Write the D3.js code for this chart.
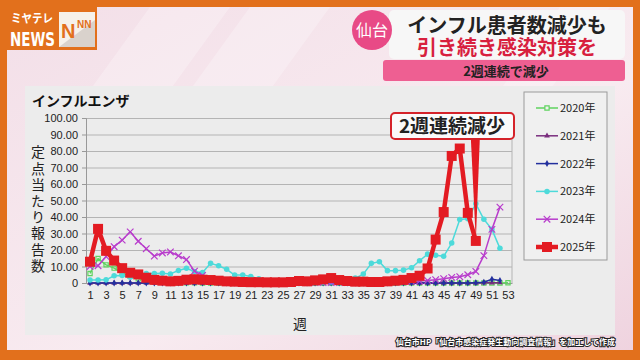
<!DOCTYPE html>
<html>
<head>
<meta charset="utf-8">
<script src="https://cdn.jsdelivr.net/npm/d3@7"></script>
<style>
  body { margin: 0; background: #fff; }
  svg { display: block; font-family: "Noto Sans CJK JP", "Noto Sans", sans-serif; }
</style>
</head>
<body>
<svg width="640" height="360"></svg>
<script>
// ---- data ----
var weeks = [1, 2, 3, 4, 5, 6, 7, 8, 9, 10, 11, 12, 13, 14, 15, 16, 17, 18, 19, 20,
  21, 22, 23, 24, 25, 26, 27, 28, 29, 30, 31, 32, 33, 34, 35, 36, 37, 38, 39, 40,
  41, 42, 43, 44, 45, 46, 47, 48, 49, 50, 51, 52, 53];
var weekTicks = [1, 3, 5, 7, 9, 11, 13, 15, 17, 19, 21, 23, 25, 27, 29, 31, 33, 35,
  37, 39, 41, 43, 45, 47, 49, 51, 53];
var yTicks = [0, 10, 20, 30, 40, 50, 60, 70, 80, 90, 100];

var y2020 = [5.8, 14.8, 11.0, 9.0, 6.0, 4.0, 2.5, 1.5, 0.8, 0.4,
  0.2, 0.1, 0.1, 0.1, 0.05, 0, 0, 0, 0, 0,
  0, 0, 0, 0, 0, 0, 0, 0, 0, 0,
  0, 0, 0, 0, 0, 0, 0, 0, 0, 0,
  0, 0, 0, 0, 0, 0, 0, 0, 0, 0,
  0, 0, 0.1];
var y2021 = [0, 0, 0, 0, 0, 0, 0, 0, 0, 0,
  0, 0, 0, 0, 0, 0, 0, 0, 0, 0,
  0, 0, 0, 0, 0, 0, 0, 0, 0, 0,
  0, 0, 0, 0, 0, 0, 0, 0, 0, 0,
  0, 0, 0, 0, 0, 0, 0, 0, 0, 0.1,
  0.1, 0.2];
var y2022 = [0, 0, 0, 0, 0, 0, 0, 0, 0, 0,
  0, 0, 0, 0, 0, 0, 0, 0, 0, 0,
  0, 0, 0, 0, 0, 0, 0, 0, 0, 0,
  0, 0, 0, 0, 0, 0, 0, 0, 0, 0,
  0, 0, 0, 0, 0, 0, 0, 0, 0.2, 0.5,
  2.3, 1.5];
var y2023 = [1.8, 1.8, 1.9, 4.4, 4.6, 3.5, 4.5, 5.8, 5.8, 5.9,
  5.5, 7.6, 8.9, 6.9, 6.3, 11.9, 10.4, 8.3, 4.8, 4.8,
  3.9, 2.6, 1.4, 1.0, 0.8, 0.6, 0.5, 0.5, 0.4, 0.5,
  0.6, 0.8, 1.5, 3.0, 5.4, 11.9, 12.9, 7.5, 7.5, 7.8,
  9.2, 13.5, 17.5, 16.8, 16.2, 24.2, 38.5, 39.0, 48.0, 38.6,
  32.5, 21.0];
var y2024 = [10.0, 10.5, 16.0, 22.0, 26.0, 31.0, 25.3, 20.8, 16.3, 18.2,
  18.8, 16.5, 14.2, 7.2, 4.6, 2.0, 1.2, 0.8, 0.6, 0.5,
  0.4, 0.4, 0.3, 0.3, 0.3, 0.3, 0.3, 0.3, 0.3, 0.3,
  0.3, 0.3, 0.3, 0.3, 0.4, 0.4, 0.5, 0.5, 0.6, 0.8,
  1.0, 1.2, 1.5, 2.0, 2.6, 3.4, 3.8, 5.0, 7.0, 16.6,
  32.5, 46.0];
var y2025 = [12.9, 32.8, 19.5, 13.6, 9.0, 6.2, 5.2, 3.2, 1.9, 1.4,
  1.0, 1.3, 2.0, 2.3, 2.0, 1.8, 1.4, 1.0, 0.8, 0.6,
  0.5, 0.5, 0.4, 0.4, 0.4, 0.6, 1.2, 1.0, 1.6, 2.2,
  3.0, 1.8, 1.2, 0.8, 0.8, 0.6, 0.6, 1.0, 1.4, 1.9,
  3.0, 4.4, 8.8, 26.3, 43.0, 77.0, 81.5, 42.5, 25.5];

var series = [
  { name: "2020年", values: y2020, color: "#5fd35f", width: 1.5, symbol: d3.symbolSquare, size: 18, open: true },
  { name: "2021年", values: y2021, color: "#7a2e7e", width: 1.5, symbol: d3.symbolTriangle, size: 14 },
  { name: "2022年", values: y2022, color: "#23309e", width: 1.5, symbol: d3.symbolDiamond, size: 14 },
  { name: "2023年", values: y2023, color: "#4ddada", width: 1.5, symbol: d3.symbolCircle, size: 24 },
  { name: "2024年", values: y2024, color: "#b83ccc", width: 1.5, symbol: d3.symbolX, size: 30, stroke: true },
  { name: "2025年", values: y2025, color: "#e31b22", width: 4.5, symbol: d3.symbolSquare, size: 100 }
];
var callout = "2週連続減少";
var calloutWeek = 49;

var svg = d3.select("svg");
var width = +svg.attr("width");
var height = +svg.attr("height");

// ---- background / frame ----
var defs = svg.append("defs");
var bg = defs.append("linearGradient").attr("id", "bg")
  .attr("x1", 0).attr("y1", 0).attr("x2", 1).attr("y2", 1);
bg.append("stop").attr("offset", 0).attr("stop-color", "#f3dfe8");
bg.append("stop").attr("offset", 0.6).attr("stop-color", "#f8ebf0");
bg.append("stop").attr("offset", 1).attr("stop-color", "#efd3df");

svg.append("rect").attr("width", width).attr("height", height).attr("fill", "#e2701c");
svg.append("rect").attr("x", 7).attr("y", 7).attr("width", 626).attr("height", 343).attr("fill", "url(#bg)");
// faint diagonal stripes
[[150, 230], [250, 330], [560, 610]].forEach(function (s) {
  svg.append("polygon")
    .attr("points", s[0] + ",7 " + s[1] + ",7 " + (s[1] - 60) + ",90 " + (s[0] - 60) + ",90")
    .attr("fill", "#ffffff").attr("opacity", 0.25);
});

// logo
var logo = svg.append("g");
logo.append("rect").attr("x", 7).attr("y", 7).attr("width", 90).attr("height", 43).attr("fill", "#e2701c");
logo.append("text").text("ミヤテレ").attr("x", 11).attr("y", 23).attr("font-size", 12)
  .attr("fill", "#fff").attr("font-weight", 700)
  .attr("textLength", 42).attr("lengthAdjust", "spacingAndGlyphs");
logo.append("text").text("NEWS").attr("x", 10).attr("y", 46).attr("font-size", 19)
  .attr("fill", "#fff").attr("font-weight", 700)
  .attr("font-family", "'Liberation Sans Narrow', 'DejaVu Sans Condensed', sans-serif")
  .attr("textLength", 45).attr("lengthAdjust", "spacingAndGlyphs");
logo.append("polygon").attr("points", "59,12 95,12 95,47 59,47").attr("fill", "#f6f1ea");
logo.append("polygon").attr("points", "59,47 95,20 95,47").attr("fill", "#d9d2cc");
logo.append("text").text("N").attr("x", 61).attr("y", 38).attr("font-size", 20)
  .attr("fill", "#e2701c").attr("font-weight", 700).attr("font-family", "'Liberation Sans', sans-serif");
logo.append("text").text("NN").attr("x", 77).attr("y", 28).attr("font-size", 10)
  .attr("fill", "#e2701c").attr("font-weight", 700).attr("font-family", "'Liberation Sans', sans-serif");

// headline
var head = svg.append("g");
head.append("rect").attr("x", 383).attr("y", 60).attr("width", 242).attr("height", 21)
  .attr("rx", 3).attr("fill", "#ee5f92");
head.append("rect").attr("x", 389).attr("y", 10).attr("width", 236).attr("height", 49)
  .attr("rx", 5).attr("fill", "#f7f7f7");
head.append("circle").attr("cx", 372).attr("cy", 30).attr("r", 20).attr("fill", "#e84a86");
head.append("text").text("仙台").attr("x", 372).attr("y", 36).attr("text-anchor", "middle")
  .attr("fill", "#fff").attr("font-size", 16);
var headText = head.append("text").attr("text-anchor", "middle")
  .attr("font-size", 20).attr("font-weight", 700);
headText.append("tspan").text("インフル患者数減少も").attr("x", 507).attr("y", 33).attr("fill", "#222");
headText.append("tspan").text("引き続き感染対策を").attr("x", 507).attr("y", 55).attr("fill", "#d8203e");
head.append("text").text("2週連続で減少").attr("x", 506).attr("y", 76).attr("text-anchor", "middle")
  .attr("fill", "#222").attr("font-size", 13).attr("font-weight", 700);

// chart panel
svg.append("rect").attr("x", 25).attr("y", 86).attr("width", 590).attr("height", 249).attr("fill", "#ececec");

// ---- chart ----
var margin = { top: 118, right: 128, bottom: 77, left: 86 };
var x = d3.scalePoint().domain(weeks).range([margin.left, width - margin.right]).padding(0.5);
var y = d3.scaleLinear().domain([0, 100]).range([height - margin.bottom, margin.top]);

var g = svg.append("g");

// gridlines
var grid = g.append("g")
  .attr("transform", "translate(" + margin.left + ",0)")
  .call(d3.axisLeft(y).tickValues(yTicks).tickSize(-(width - margin.right - margin.left)).tickFormat(""));
grid.selectAll(".tick line").attr("stroke", "#b4b4b4");
grid.select(".domain").remove();

// right border
g.append("line").attr("x1", width - margin.right).attr("x2", width - margin.right)
  .attr("y1", margin.top).attr("y2", height - margin.bottom).attr("stroke", "#b4b4b4");

// y axis
var yAxisG = g.append("g")
  .attr("transform", "translate(" + margin.left + ",0)")
  .call(d3.axisLeft(y).tickValues(yTicks).tickSize(4).tickPadding(4)
    .tickFormat(function (d) { return d === 0 ? "0" : d3.format(".2f")(d); }));
yAxisG.select(".domain").attr("stroke", "#999");
yAxisG.selectAll(".tick line").attr("stroke", "#999");
yAxisG.selectAll("text").attr("font-size", 11).attr("fill", "#222")
  .attr("font-family", "'Liberation Sans', sans-serif");

// x axis
var xAxisG = g.append("g")
  .attr("transform", "translate(0," + (height - margin.bottom) + ")")
  .call(d3.axisBottom(x).tickValues(weekTicks).tickSize(0).tickPadding(8));
xAxisG.select(".domain").attr("stroke", "#999");
xAxisG.selectAll("text").attr("font-size", 11).attr("fill", "#222")
  .attr("font-family", "'Liberation Sans', sans-serif");

// titles
g.append("text").text("インフルエンザ").attr("x", 32).attr("y", 106)
  .attr("font-size", 14).attr("font-weight", 700).attr("fill", "#111");
g.append("text").text("定点当たり報告数")
  .attr("x", 38).attr("y", 145)
  .attr("writing-mode", "vertical-rl")
  .attr("letter-spacing", 2.2)
  .attr("font-size", 14).attr("fill", "#222");
g.append("text").text("週").attr("x", 300).attr("y", 329)
  .attr("text-anchor", "middle").attr("font-size", 14).attr("fill", "#222");

// lines + markers
var line = d3.line()
  .x(function (d) { return x(d.w); })
  .y(function (d) { return y(d.v); });

series.forEach(function (s) {
  var pts = s.values.map(function (v, i) { return { w: weeks[i], v: v }; });
  var sg = g.append("g");
  sg.append("path").attr("d", line(pts)).attr("fill", "none")
    .attr("stroke", s.color).attr("stroke-width", s.width).attr("stroke-linejoin", "round");
  sg.selectAll("path.m").data(pts).join("path").attr("class", "m")
    .attr("transform", function (d) { return "translate(" + x(d.w) + "," + y(d.v) + ")"; })
    .attr("d", d3.symbol(s.symbol, s.size))
    .attr("fill", s.open || s.stroke ? "none" : s.color)
    .attr("stroke", s.open || s.stroke ? s.color : "none")
    .attr("stroke-width", 1.2);
});

// callout
var tipX = x(calloutWeek);
var tipY = y(y2025[calloutWeek - 1]);
g.append("polygon")
  .attr("points", (tipX - 5) + ",138 " + (tipX + 4) + ",138 " + tipX + "," + tipY)
  .attr("fill", "#e31b22");
g.append("rect").attr("x", 391).attr("y", 113).attr("width", 123).attr("height", 26).attr("rx", 4)
  .attr("fill", "#fafafa").attr("stroke", "#d5232a").attr("stroke-width", 2);
g.append("text").text(callout).attr("x", 452).attr("y", 133).attr("text-anchor", "middle")
  .attr("font-size", 19).attr("font-weight", 700).attr("fill", "#222");

// legend
var legend = svg.append("g");
legend.append("rect").attr("x", 524).attr("y", 92).attr("width", 83).attr("height", 168)
  .attr("fill", "#f0f0f0").attr("stroke", "#9a9a9a");
var items = legend.selectAll("g.item").data(series).join("g").attr("class", "item")
  .attr("transform", function (d, i) { return "translate(0," + (108 + i * 27.8) + ")"; });
items.append("line").attr("x1", 536).attr("x2", 558)
  .attr("stroke", function (d) { return d.color; })
  .attr("stroke-width", function (d) { return d.width; });
items.append("path").attr("transform", "translate(547,0)")
  .attr("d", function (d) { return d3.symbol(d.symbol, d.size)(); })
  .attr("fill", function (d) { return d.open || d.stroke ? (d.open ? "#f0f0f0" : "none") : d.color; })
  .attr("stroke", function (d) { return d.open || d.stroke ? d.color : "none"; })
  .attr("stroke-width", 1.2);
items.append("text").text(function (d) { return d.name; })
  .attr("x", 560).attr("y", 4).attr("font-size", 11).attr("fill", "#222");

// source caption
svg.append("text").text("仙台市HP「仙台市感染症発生動向調査情報」を加工して作成")
  .attr("x", 615).attr("y", 345).attr("text-anchor", "end")
  .attr("font-size", 8).attr("font-weight", 700).attr("fill", "#fff")
  .attr("stroke", "#222").attr("stroke-width", 2).attr("paint-order", "stroke");
</script>
</body>
</html>
